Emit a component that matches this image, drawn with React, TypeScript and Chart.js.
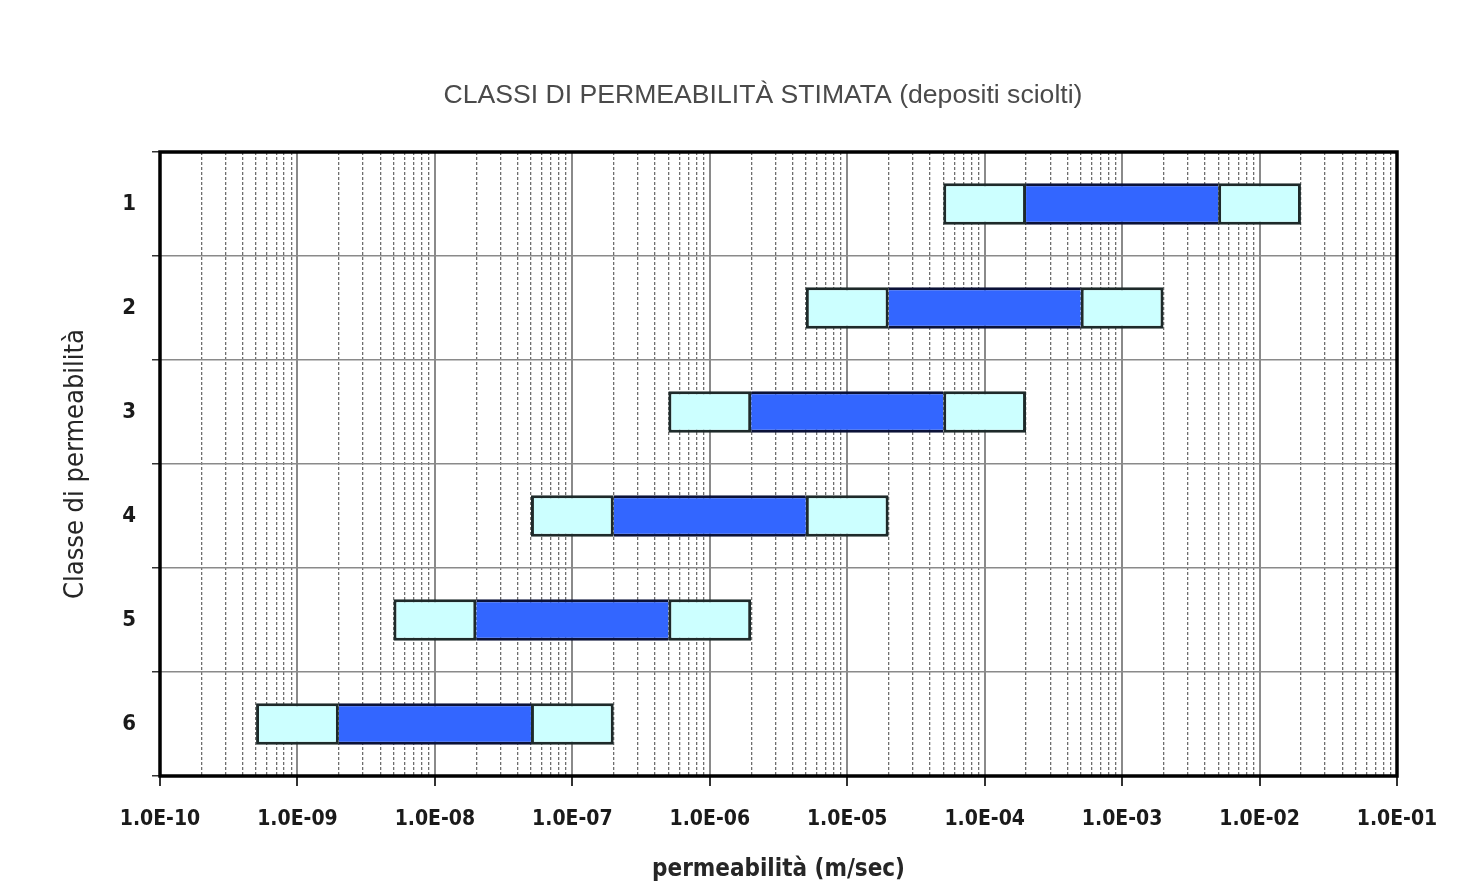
import React, { useEffect, useRef } from "react";
import { Chart, registerables } from "chart.js";

Chart.register(...registerables);

const classes = ["1", "2", "3", "4", "5", "6"];
// lower light segment
const lowStart = [5e-5, 5e-6, 5e-7, 5e-8, 5e-9, 5e-10];
const midStart = [2e-4, 2e-5, 2e-6, 2e-7, 2e-8, 2e-9];
const midEnd = [5e-3, 5e-4, 5e-5, 5e-6, 5e-7, 5e-8];
const highEnd = [2e-2, 2e-3, 2e-4, 2e-5, 2e-6, 2e-7];
const decadeExps = [-10, -9, -8, -7, -6, -5, -4, -3, -2, -1];
const xTickLabels = [
  "1.0E-10", "1.0E-09", "1.0E-08", "1.0E-07", "1.0E-06",
  "1.0E-05", "1.0E-04", "1.0E-03", "1.0E-02", "1.0E-01",
];
const minorMultipliers = [2, 3, 4, 5, 6, 7, 8, 9];

const titleText = "CLASSI DI PERMEABILITÀ STIMATA (depositi sciolti)";
const TAHOMA = '"DejaVu Sans Condensed", "DejaVu Sans", sans-serif';

const isDecade = (v: number) => {
  const l = Math.log10(v);
  return Math.abs(l - Math.round(l)) < 1e-6;
};

export default function App() {
  const ref = useRef<HTMLCanvasElement | null>(null);
  useEffect(() => {
    if (!ref.current) return;
    const titlePlugin = {
      id: "customTitle",
      afterDraw(chart: any) {
        const ctx = chart.ctx;
        ctx.save();
        ctx.font = '26.6px "Liberation Sans", Arial, sans-serif';
        ctx.fillStyle = "#4a4a4a";
        ctx.textAlign = "center";
        ctx.textBaseline = "middle";
        ctx.fillText(titleText, 755, 88);
        ctx.restore();
      },
    };
    const framePlugin = {
      id: "frame",
      afterDatasetsDraw(chart: any) {
        const { ctx, chartArea } = chart;
        ctx.save();
        ctx.strokeStyle = "#000";
        ctx.lineWidth = 3.5;
        ctx.strokeRect(
          chartArea.left,
          chartArea.top,
          chartArea.right - chartArea.left,
          chartArea.bottom - chartArea.top
        );
        ctx.restore();
      },
    };
    const chart = new Chart(ref.current, {
      type: "bar",
      data: {
        labels: classes,
        datasets: [
          {
            data: classes.map((_, i) => [lowStart[i], midStart[i]]),
            backgroundColor: "#ccffff",
            borderColor: "#1e2a2a",
            borderWidth: 3,
            borderSkipped: false,
            grouped: false,
            categoryPercentage: 1,
            barPercentage: 0.4,
          } as any,
          {
            data: classes.map((_, i) => [midStart[i], midEnd[i]]),
            backgroundColor: "#3366ff",
            borderColor: "#0b1238",
            borderWidth: { top: 3, bottom: 3, left: 0, right: 0 },
            borderSkipped: false,
            grouped: false,
            categoryPercentage: 1,
            barPercentage: 0.4,
          } as any,
          {
            data: classes.map((_, i) => [midEnd[i], highEnd[i]]),
            backgroundColor: "#ccffff",
            borderColor: "#1e2a2a",
            borderWidth: 3,
            borderSkipped: false,
            grouped: false,
            categoryPercentage: 1,
            barPercentage: 0.4,
          } as any,
        ],
      },
      options: {
        animation: false,
        responsive: false,
        indexAxis: "y",
        layout: { padding: { top: 144, left: 50, right: 68, bottom: 0 } },
        plugins: {
          legend: { display: false },
          title: { display: false },
          tooltip: { enabled: false },
        },
        scales: {
          x: {
            type: "logarithmic",
            min: 1e-10,
            max: 1e-1,
            afterBuildTicks(scale: any) {
              const t: any[] = [];
              decadeExps.forEach((e, i) => {
                t.push({ value: Math.pow(10, e), major: true });
                if (i < decadeExps.length - 1) {
                  minorMultipliers.forEach((m) =>
                    t.push({ value: m * Math.pow(10, e), major: false })
                  );
                }
              });
              scale.ticks = t;
            },
            ticks: {
              autoSkip: false,
              maxRotation: 0,
              padding: 21,
              color: "#1a1a1a",
              font: { family: TAHOMA, size: 21, weight: "bold" },
              callback(value: any) {
                const v = Number(value);
                if (!isDecade(v)) return "";
                const idx = decadeExps.indexOf(Math.round(Math.log10(v)));
                return idx >= 0 ? xTickLabels[idx] : "";
              },
            },
            grid: {
              drawOnChartArea: true,
              drawTicks: true,
              tickLength: 10,
              color: (ctx: any) =>
                ctx.tick && isDecade(ctx.tick.value) ? "#8a8a8a" : "#6e6e6e",
              lineWidth: (ctx: any) =>
                ctx.tick && isDecade(ctx.tick.value) ? 2 : 1.3,
              tickColor: (ctx: any) =>
                ctx.tick && isDecade(ctx.tick.value) ? "#333" : "rgba(0,0,0,0)",
            },
            border: {
              display: false,
              dash: (ctx: any) =>
                ctx.tick && !isDecade(ctx.tick.value) ? [3, 2] : [],
            } as any,
            title: {
              display: true,
              text: "permeabilità (m/sec)",
              color: "#262626",
              font: { family: TAHOMA, size: 24, weight: "bold" },
              padding: { top: 2, bottom: 0 },
            },
          },
          y: {
            type: "category",
            afterFit(scale: any) {
              scale.width = 102;
            },
            ticks: {
              padding: 16,
              color: "#1a1a1a",
              font: { family: TAHOMA, size: 22, weight: "bold" },
            },
            grid: {
              offset: true,
              color: "#8a8a8a",
              lineWidth: 1.5,
              tickLength: 8,
              tickColor: "#333",
            },
            border: { display: false },
            title: {
              display: true,
              text: "Classe di permeabilità",
              color: "#262626",
              font: { family: TAHOMA, size: 27 },
              padding: { top: 2, bottom: 0 },
            },
          },
        },
      } as any,
      plugins: [titlePlugin, framePlugin],
    });
    return () => chart.destroy();
  }, []);
  return (
    <div style={{ width: 1457, height: 876 }}>
      <canvas ref={ref} width={1457} height={876} style={{ display: "block" }} />
    </div>
  );
}
